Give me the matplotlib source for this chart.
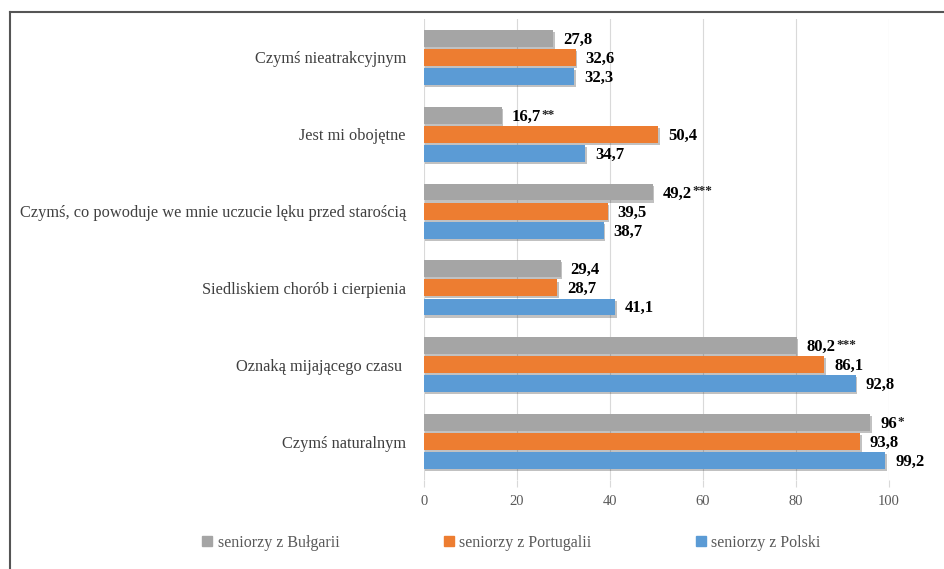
import matplotlib
matplotlib.use("Agg")
import matplotlib.pyplot as plt
from matplotlib.lines import Line2D
import matplotlib.patheffects as pe
import numpy as np

categories = ["Czymś nieatrakcyjnym", "Jest mi obojętne",
              "Czymś, co powoduje we mnie uczucie lęku przed starością",
              "Siedliskiem chorób i cierpienia", "Oznaką mijającego czasu ",
              "Czymś naturalnym"]
bulgaria = [27.8, 16.7, 49.2, 29.4, 80.2, 96.0]
bulgaria_labels = ["27,8", "16,7", "49,2", "29,4", "80,2", "96"]
bulgaria_stars = ["", "**", "***", "", "***", "*"]
portugal = [32.6, 50.4, 39.5, 28.7, 86.1, 93.8]
portugal_labels = ["32,6", "50,4", "39,5", "28,7", "86,1", "93,8"]
poland = [32.3, 34.7, 38.7, 41.1, 92.8, 99.2]
poland_labels = ["32,3", "34,7", "38,7", "41,1", "92,8", "99,2"]
series_names = ["seniorzy z Bułgarii", "seniorzy z Portugalii", "seniorzy z Polski"]
colors = ["#A5A5A5", "#ED7D31", "#5B9BD5"]
xticks = [0, 20, 40, 60, 80, 100]

plt.rcParams['font.family'] = ['Liberation Serif', 'DejaVu Serif']

W, H = 945, 569
fig = plt.figure(figsize=(W/100, H/100), dpi=100)
ax = fig.add_axes([424/W, 1-480/H, (889-424)/W, (480-19)/H])

y = np.arange(len(categories))
off = 0.248
h = 0.22
shadow = [pe.SimplePatchShadow(offset=(1.0, -1.5), shadow_rgbFace="#333333", alpha=0.3), pe.Normal()]
series = [(bulgaria, bulgaria_labels), (portugal, portugal_labels), (poland, poland_labels)]
for i, ((vals, labs), c) in enumerate(zip(series, colors)):
    bars = ax.barh(y + (i-1)*off, vals, height=h, color=c, zorder=3)
    for b in bars:
        b.set_path_effects(shadow)

ax.set_xlim(0, 100)
ax.set_ylim(len(categories)-0.5, -0.5)
ax.set_xticks(xticks)
ax.set_xticklabels([str(t) for t in xticks], fontsize=10.5, color="#595959")
ax.tick_params(axis='x', length=5, color="#D9D9D9", pad=6)
ax.set_yticks(y)
ax.set_yticklabels(categories, fontsize=11.8, color="#404040")
ax.tick_params(axis='y', length=0, pad=13)
ax.grid(axis='x', color="#D9D9D9", linewidth=0.8, zorder=0)
for s in ax.spines.values():
    s.set_visible(False)

texts = []
for i, (vals, labs) in enumerate(series):
    for j, (v, l) in enumerate(zip(vals, labs)):
        t = ax.annotate(l, (v, y[j] + (i-1)*off), xytext=(7, -1), textcoords='offset points',
                        ha='left', va='center', fontsize=12, fontweight='bold', color='black')
        if i == 0:
            texts.append((t, bulgaria_stars[j], j))

fig.canvas.draw()
r = fig.canvas.get_renderer()
for t, st, j in texts:
    if st:
        bb = t.get_window_extent(r)
        ax.annotate(st, xy=(bb.x1, bb.y1), xycoords='figure pixels', xytext=(0.5, 0),
                    textcoords='offset points', ha='left', va='top', fontsize=9.5,
                    fontweight='bold', color='#222222')

handles = [Line2D([], [], marker='s', linestyle='none', markersize=7, markerfacecolor=c,
                  markeredgecolor=c) for c in colors]
leg = fig.legend(handles, series_names, loc='center', bbox_to_anchor=(510/W, 1-543/H),
                 ncol=3, frameon=False, fontsize=11.5, columnspacing=6.35, handletextpad=0.15,
                 handlelength=1.0)
for tx in leg.get_texts():
    tx.set_color("#595959")

fig.add_artist(Line2D([10/W, 1.0], [1-12/H, 1-12/H], color="#555555", linewidth=1.5))
fig.add_artist(Line2D([10/W, 10/W], [1-12/H, 0], color="#555555", linewidth=1.5))

fig.savefig("out.png", dpi=100)
